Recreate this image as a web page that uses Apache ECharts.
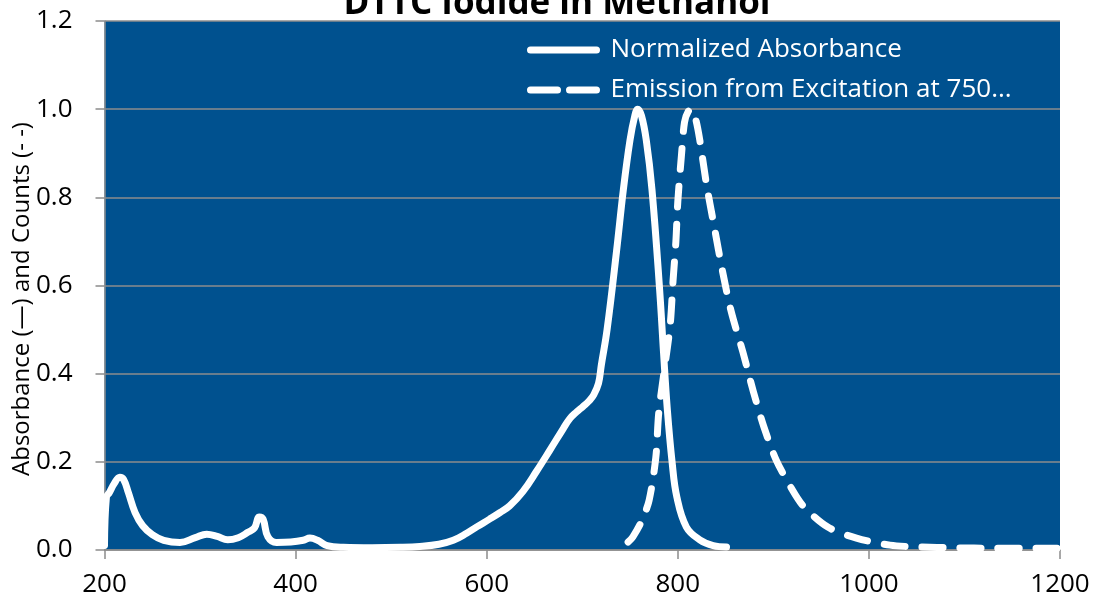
<!DOCTYPE html>
<html>
<head>
<meta charset="utf-8">
<script src="https://cdn.jsdelivr.net/npm/echarts@6/dist/echarts.min.js"></script>
<style>
html,body{margin:0;padding:0;background:#fff;}
#chart{width:1096px;height:606px;}
</style>
</head>
<body>
<div id="chart"></div>
<script>
const titleText = "DTTC Iodide in Methanol";
const yAxisTitle = "Absorbance (\u2014) and Counts (- -)";
const absName = "Normalized Absorbance";
const emName = "Emission from Excitation at 750...";

// Normalized absorbance (solid)
const absWl  = [200, 202, 205, 210, 216, 220, 225, 232, 240, 250, 262, 279, 295, 307, 318, 329, 340, 350, 357, 362, 366, 371, 380, 395, 408, 415, 423, 433, 450, 480, 510, 530, 550, 565, 579, 590, 603, 614, 624, 638, 652, 666, 680, 687, 694, 701, 707, 712, 717, 720, 726, 736, 743, 750, 755, 758, 762, 767, 773, 781, 785, 789, 794, 799, 809, 823, 837, 851];
const absVal = [0.01, 0.12, 0.13, 0.15, 0.165, 0.16, 0.13, 0.085, 0.055, 0.035, 0.022, 0.017, 0.028, 0.036, 0.031, 0.023, 0.028, 0.04, 0.05, 0.075, 0.07, 0.03, 0.017, 0.018, 0.022, 0.027, 0.022, 0.01, 0.006, 0.005, 0.006, 0.008, 0.013, 0.022, 0.038, 0.053, 0.07, 0.085, 0.10, 0.133, 0.178, 0.226, 0.275, 0.298, 0.313, 0.326, 0.338, 0.352, 0.378, 0.42, 0.50, 0.68, 0.817, 0.93, 0.985, 1.0, 0.985, 0.93, 0.817, 0.59, 0.45, 0.32, 0.20, 0.12, 0.052, 0.023, 0.01, 0.007];

// Emission (dashed)
const emWl  = [748, 753, 762, 770, 777, 780, 786, 792, 795, 798, 800, 804, 807, 811, 815, 819, 823, 830, 838, 847, 856, 868, 879, 890, 903, 920, 932, 957, 987, 1022, 1053, 1090, 1130, 1160, 1198];
const emVal = [0.018, 0.03, 0.065, 0.113, 0.21, 0.31, 0.41, 0.51, 0.61, 0.70, 0.79, 0.90, 0.97, 0.995, 1.0, 0.975, 0.93, 0.83, 0.735, 0.63, 0.54, 0.45, 0.36, 0.28, 0.204, 0.136, 0.098, 0.052, 0.027, 0.011, 0.007, 0.005, 0.004, 0.004, 0.004];

const xTicks = [200, 400, 600, 800, 1000, 1200];
const yTicks = [0, 0.2, 0.4, 0.6, 0.8, 1.0, 1.2];

const absData = absWl.map((w, i) => [w, absVal[i]]);
const emData = emWl.map((w, i) => [w, emVal[i]]);

const FONT = "Open Sans";
const chart = echarts.init(document.getElementById('chart'));
chart.setOption({
  animation: false,
  backgroundColor: '#ffffff',
  title: {
    text: titleText,
    left: 552,
    textAlign: 'center',
    top: -18,
    textStyle: {fontFamily: FONT, fontWeight: 'bold', fontSize: 35, color: '#000'}
  },
  grid: {left: 104.5, right: 36, top: 21, bottom: 56, show: true, backgroundColor: '#00518F', borderWidth: 0,
         outerBoundsMode: 'none', containLabel: false},
  graphic: [{
    type: 'text', x: 22, y: 299, rotation: Math.PI / 2, z: 10,
    style: {text: yAxisTitle, fontFamily: FONT, fontSize: 24, fill: '#000',
            align: 'center', verticalAlign: 'middle'}
  }],
  legend: {
    show: true,
    orient: 'vertical',
    left: 522,
    top: 32,
    z: 10,
    itemWidth: 66,
    itemHeight: 14,
    itemGap: 14,
    textStyle: {fontFamily: FONT, fontSize: 26, color: '#ffffff', padding: [0, 0, 0, 9]},
    itemStyle: {opacity: 0},
    lineStyle: {width: 7, cap: 'round'},
    data: [
      {name: absName},
      {name: emName, lineStyle: {width: 7, cap: 'round', type: [27, 12]}}
    ]
  },
  xAxis: {
    type: 'value',
    min: 200, max: 1200, interval: 200,
    axisLine: {show: true, lineStyle: {color: '#8c8c8c', width: 1.5}},
    axisTick: {show: true, length: 9, lineStyle: {color: '#8c8c8c', width: 1.5}},
    axisLabel: {fontFamily: FONT, fontSize: 26, color: '#000', margin: 22, showMaxLabel: true, showMinLabel: true,
      formatter: v => xTicks.includes(v) ? String(v) : ''},
    splitLine: {show: false}
  },
  yAxis: {
    type: 'value',
    min: 0, max: 1.2, interval: 0.2,
    axisLine: {show: true, lineStyle: {color: '#8c8c8c', width: 1.5}},
    axisTick: {show: true, length: 9, lineStyle: {color: '#8c8c8c', width: 1.5}},
    axisLabel: {fontFamily: FONT, fontSize: 26, color: '#000', margin: 32, showMaxLabel: true, showMinLabel: true,
      formatter: v => { const t = yTicks.find(k => Math.abs(k - v) < 1e-9); return t === undefined ? '' : t.toFixed(1); }},
    splitLine: {show: true, lineStyle: {color: '#8c8c8c', width: 1.5}}
  },
  series: [
    {
      name: absName, type: 'line', data: absData, smooth: 0.4, symbol: 'none',
      lineStyle: {color: '#ffffff', width: 7, cap: 'round', join: 'round'},
      itemStyle: {color: '#ffffff'}
    },
    {
      name: emName, type: 'line', data: emData, smooth: 0.3, symbol: 'none',
      lineStyle: {color: '#ffffff', width: 7, type: [21, 17], cap: 'round', join: 'round'},
      itemStyle: {color: '#ffffff'}
    }
  ]
});
</script>
</body>
</html>
